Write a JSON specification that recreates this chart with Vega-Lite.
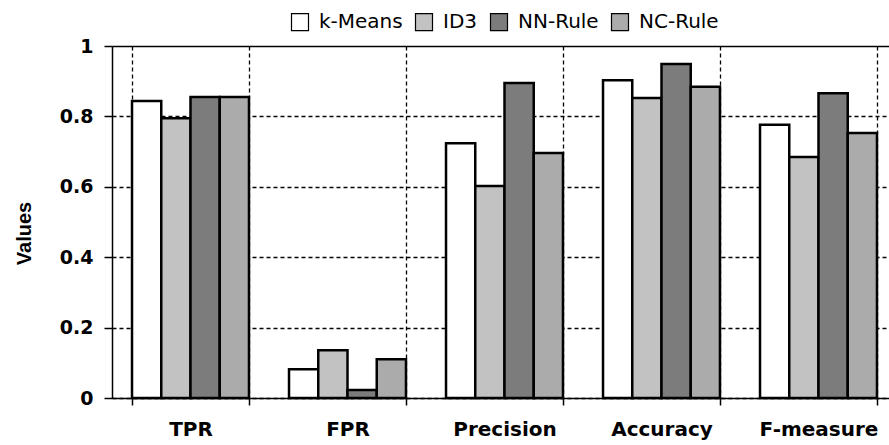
{
  "$schema": "https://vega.github.io/schema/vega-lite/v6.json",
  "width": 777,
  "height": 352,
  "autosize": {"type": "none"},
  "padding": {"left": 112, "top": 46, "right": 0, "bottom": 47},
  "background": "white",
  "config": {
    "font": "DejaVu Sans",
    "view": {"stroke": null}
  },
  "data": {
    "values": [
      {"metric": "TPR", "method": "k-Means", "value": 0.844},
      {"metric": "TPR", "method": "ID3", "value": 0.795},
      {"metric": "TPR", "method": "NN-Rule", "value": 0.855},
      {"metric": "TPR", "method": "NC-Rule", "value": 0.855},
      {"metric": "FPR", "method": "k-Means", "value": 0.082},
      {"metric": "FPR", "method": "ID3", "value": 0.136},
      {"metric": "FPR", "method": "NN-Rule", "value": 0.023},
      {"metric": "FPR", "method": "NC-Rule", "value": 0.11},
      {"metric": "Precision", "method": "k-Means", "value": 0.724},
      {"metric": "Precision", "method": "ID3", "value": 0.602},
      {"metric": "Precision", "method": "NN-Rule", "value": 0.895},
      {"metric": "Precision", "method": "NC-Rule", "value": 0.696},
      {"metric": "Accuracy", "method": "k-Means", "value": 0.903},
      {"metric": "Accuracy", "method": "ID3", "value": 0.852},
      {"metric": "Accuracy", "method": "NN-Rule", "value": 0.949},
      {"metric": "Accuracy", "method": "NC-Rule", "value": 0.884},
      {"metric": "F-measure", "method": "k-Means", "value": 0.776},
      {"metric": "F-measure", "method": "ID3", "value": 0.685},
      {"metric": "F-measure", "method": "NN-Rule", "value": 0.866},
      {"metric": "F-measure", "method": "NC-Rule", "value": 0.753}
    ]
  },
  "mark": {"type": "bar", "stroke": "black", "strokeWidth": 2.5},
  "encoding": {
    "x": {
      "field": "metric",
      "type": "nominal",
      "sort": ["TPR", "FPR", "Precision", "Accuracy", "F-measure"],
      "scale": {"range": [0, 785], "paddingInner": 0.255, "paddingOuter": 0.1275},
      "axis": {
        "title": null,
        "labelAngle": 0,
        "labelFont": "DejaVu Sans",
        "labelFontSize": 20,
        "labelFontWeight": "bold",
        "labelColor": "black",
        "labelPadding": 14,
        "tickBand": "extent",
        "ticks": true,
        "tickColor": "black",
        "tickSize": 7,
        "tickWidth": 1.5,
        "domainColor": "black",
        "domainWidth": 1.5,
        "grid": true,
        "gridColor": "black",
        "gridDash": [4, 3],
        "gridWidth": 1.3
      }
    },
    "xOffset": {
      "field": "method",
      "type": "nominal",
      "sort": ["k-Means", "ID3", "NN-Rule", "NC-Rule"],
      "scale": {"paddingInner": 0, "paddingOuter": 0}
    },
    "y": {
      "field": "value",
      "type": "quantitative",
      "scale": {"domain": [0, 1], "nice": false},
      "axis": {
        "title": "Values",
        "titleFont": "Liberation Sans",
        "titleFontSize": 20,
        "titleFontWeight": "bold",
        "titleColor": "black",
        "titlePadding": 25,
        "titleY": 187,
        "values": [0, 0.2, 0.4, 0.6, 0.8, 1],
        "format": "~g",
        "labelFont": "DejaVu Sans",
        "labelFontSize": 19,
        "labelFontWeight": "bold",
        "labelColor": "black",
        "labelPadding": 11,
        "tickColor": "black",
        "tickSize": 8,
        "tickWidth": 1.5,
        "domainColor": "black",
        "domainWidth": 1.5,
        "gridColor": "black",
        "gridDash": {"condition": {"test": "datum.value === 1", "value": []}, "value": [4, 3]},
        "gridWidth": 1.3
      }
    },
    "fill": {
      "field": "method",
      "type": "nominal",
      "sort": ["k-Means", "ID3", "NN-Rule", "NC-Rule"],
      "scale": {
        "domain": ["k-Means", "ID3", "NN-Rule", "NC-Rule"],
        "range": ["#ffffff", "#c2c2c2", "#7c7c7c", "#ababab"]
      },
      "legend": {
        "title": null,
        "orient": "none",
        "direction": "horizontal",
        "legendX": 178,
        "legendY": -34,
        "symbolType": "square",
        "symbolSize": 289,
        "symbolStrokeColor": "black",
        "symbolStrokeWidth": 1.2,
        "labelFont": "DejaVu Sans",
        "labelFontSize": 20,
        "labelColor": "black",
        "columnPadding": 10,
        "labelOffset": 9
      }
    }
  }
}
